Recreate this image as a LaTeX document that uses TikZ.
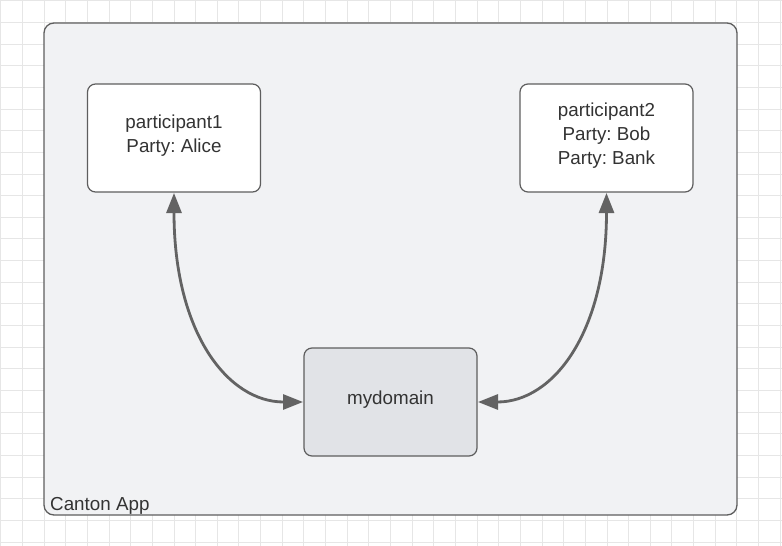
\documentclass[tikz,border=0pt]{standalone}
\usepackage{fontspec}
\setmainfont{Liberation Sans}
\usetikzlibrary{arrows.meta}
\frenchspacing
\definecolor{gridc}{HTML}{E6E6E6}
\definecolor{appfill}{HTML}{F1F2F4}
\definecolor{mdfill}{HTML}{E1E3E7}
\definecolor{edge}{HTML}{5E5E5E}
\definecolor{txt}{HTML}{333333}
\definecolor{arrc}{HTML}{636363}
\tikzset{
  box/.style={draw=edge, line width=1.2pt, rounded corners=8pt, fill=white,
    minimum width=173pt, minimum height=108pt, align=center, text=txt,
    font=\fontsize{18.8}{24}\selectfont, inner sep=0pt, outer sep=1pt},
  conn/.style={draw=arrc, line width=2.8pt,
    {Triangle[length=20pt,width=15pt]}-{Triangle[length=20pt,width=15pt]}},
  lbl/.style={text=txt, font=\fontsize{18.8}{24}\selectfont, align=center, inner sep=0pt},
}
\begin{document}
\begin{tikzpicture}[x=1pt,y=-1pt]
\useasboundingbox (0,0) rectangle (782,546);
\fill[white] (0,0) rectangle (782,546);
\foreach \i in {0,...,36} \draw[gridc, line width=1pt] ({0.8+\i*21.65},0) -- ++(0,546);
\foreach \i in {0,...,25} \draw[gridc, line width=1pt] (0,{0.8+\i*21.65}) -- ++(782,0);
\node[draw=edge, line width=1.3pt, rounded corners=10pt, fill=appfill,
  minimum width=693pt, minimum height=492pt, inner sep=0pt] (app) at (390.5,269) {};
\node[lbl, anchor=base west] (applabel) at (50,510) {Canton App};
\node[box] (p1) at (174,138) {};
\node[box] (p2) at (606.5,138) {};
\node[box, fill=mdfill] (md) at (390.5,402) {};
\node[lbl] (p1t) at (174,135.5) {participant1\\Party: Alice};
\node[lbl] (p2t) at (606.5,135.5) {participant2\\Party: Bob\\Party: Bank};
\node[lbl] (mdt) at (390.5,400) {mydomain};
\draw[conn] (p1.south) .. controls +(0,140) and +(-75,0) .. (md.west);
\draw[conn] (p2.south) .. controls +(0,140) and +(75,0) .. (md.east);
\end{tikzpicture}
\end{document}
